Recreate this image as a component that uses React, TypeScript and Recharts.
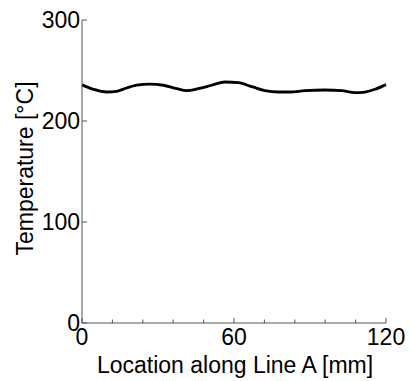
import { LineChart, Line, XAxis, YAxis, Label } from "recharts";

// location along line A [mm] and measured temperature [°C]
const locations = [0, 4.5, 9.7, 13.7, 17.6, 21.6, 26.8, 32.1, 37.4, 41.3, 45.9, 51.2, 56.4, 61.7, 67.0, 72.2, 77.5, 82.1, 88.0, 95.9, 102.5, 107.8, 111.7, 115.7, 120];
const temperatures = [235.8, 231.4, 228.7, 229.4, 232.7, 235.4, 236.6, 235.4, 232.0, 230.0, 232.0, 235.4, 238.6, 237.9, 234.0, 230.0, 228.7, 228.7, 230.0, 230.7, 230.0, 228.0, 228.7, 231.4, 236.0];

const xTicks = [0, 12, 24, 36, 48, 60, 72, 84, 96, 108, 120];
const xLabelTicks = [0, 60, 120];
const yTicks = [0, 100, 200, 300];

const data = locations.map((loc, i) => ({ loc, temp: temperatures[i] }));

const FONT = "'Liberation Sans', Arial, Helvetica, sans-serif";
const FS = 23;
const FRAME = "#555";

interface TickProps {
  x?: number;
  y?: number;
  payload?: { value: number };
}

const BottomTick = ({ x = 0, y = 0, payload }: TickProps) => {
  const v = payload ? payload.value : 0;
  const major = xLabelTicks.includes(v);
  return (
    <g>
      <line x1={x} x2={x} y1={y} y2={y - (major ? 5 : 3.5)} stroke={FRAME} strokeWidth={1} />
      {major && (
        <text x={x} y={y + 22} textAnchor="middle" fontSize={FS} fontFamily={FONT} fill="#000">
          {v}
        </text>
      )}
    </g>
  );
};

const TopTick = ({ x = 0, y = 0, payload }: TickProps) => {
  const v = payload ? payload.value : 0;
  const major = xLabelTicks.includes(v);
  return <line x1={x} x2={x} y1={y} y2={y + (major ? 5 : 3.5)} stroke={FRAME} strokeWidth={1} />;
};

const LeftTick = ({ x = 0, y = 0, payload }: TickProps) => (
  <g>
    <line x1={x} x2={x + 5} y1={y} y2={y} stroke={FRAME} strokeWidth={1} />
    <text x={x - 2} y={y + 8} textAnchor="end" fontSize={FS} fontFamily={FONT} fill="#000">
      {payload ? payload.value : ""}
    </text>
  </g>
);

const RightTick = ({ x = 0, y = 0 }: TickProps) => (
  <line x1={x} x2={x - 5} y1={y} y2={y} stroke={FRAME} strokeWidth={1} />
);

export default function App() {
  return (
    <div style={{ position: "absolute", left: 0, top: 0, background: "#fff" }}>
      <LineChart width={409} height={381} data={data} margin={{ top: 20, right: 23, left: 0, bottom: 0 }}>
        <XAxis
          dataKey="loc"
          type="number"
          domain={[0, 120]}
          ticks={xTicks}
          interval={0}
          tickSize={0}
          tickMargin={0}
          tickLine={false}
          height={58}
          axisLine={{ stroke: FRAME, strokeWidth: 1 }}
          tick={<BottomTick />}
        >
          <Label
            content={(props: any) => {
              const vb = props.viewBox || { x: 82, y: 323, width: 304, height: 58 };
              return (
                <text x={vb.x + vb.width / 2 + 1} y={vb.y + vb.height - 8} textAnchor="middle" fontSize={FS} fontFamily={FONT} fill="#000">
                  Location along Line A [mm]
                </text>
              );
            }}
          />
        </XAxis>
        <XAxis
          xAxisId="top"
          orientation="top"
          dataKey="loc"
          type="number"
          domain={[0, 120]}
          ticks={xTicks}
          interval={0}
          tickSize={0}
          tickMargin={0}
          tickLine={false}
          height={0}
          axisLine={{ stroke: FRAME, strokeWidth: 1 }}
          tick={<TopTick />}
        />
        <YAxis
          type="number"
          domain={[0, 300]}
          ticks={yTicks}
          interval={0}
          tickSize={0}
          tickMargin={0}
          tickLine={false}
          width={82}
          axisLine={{ stroke: FRAME, strokeWidth: 1 }}
          tick={<LeftTick />}
        >
          <Label
            content={(props: any) => {
              const vb = props.viewBox || { x: 0, y: 20, width: 82, height: 303 };
              const cx = vb.x + 33;
              const cy = vb.y + vb.height / 2 - 3;
              return (
                <text transform={`translate(${cx}, ${cy}) rotate(-90)`} textAnchor="middle" fontSize={FS} fontFamily={FONT} fill="#000">
                  Temperature [°C]
                </text>
              );
            }}
          />
        </YAxis>
        <YAxis
          yAxisId="right"
          orientation="right"
          type="number"
          domain={[0, 300]}
          ticks={[100, 200]}
          interval={0}
          tickSize={0}
          tickMargin={0}
          tickLine={false}
          width={0}
          axisLine={{ stroke: FRAME, strokeWidth: 1 }}
          tick={<RightTick />}
        />
        <Line
          type="monotone"
          dataKey="temp"
          stroke="#000"
          strokeWidth={2.8}
          dot={false}
          isAnimationActive={false}
        />
      </LineChart>
    </div>
  );
}
